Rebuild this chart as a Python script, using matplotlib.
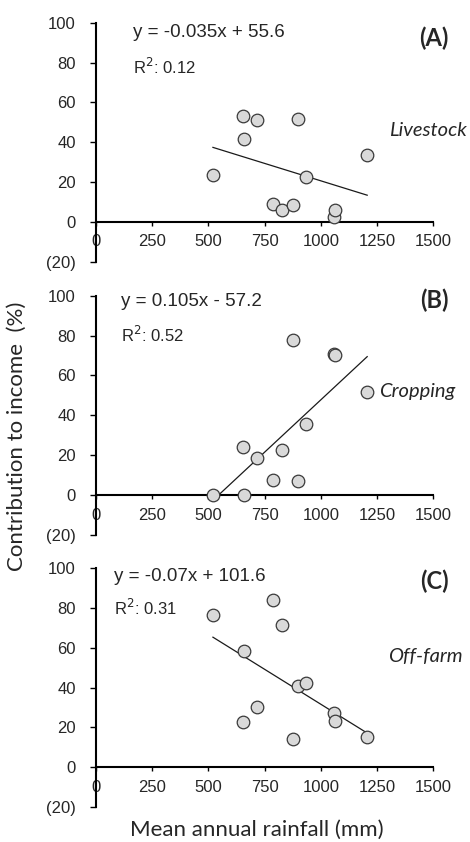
import matplotlib
matplotlib.use("Agg")

import matplotlib.pyplot as plt

# mean annual rainfall at each site (mm)
rainfall = [520, 655, 660, 716, 786, 828, 875, 899, 934, 1058, 1062, 1206]

# contribution to income (%)
livestock = [23.3, 53.0, 41.7, 51.2, 8.8, 5.8, 8.5, 51.7, 22.3, 2.3, 6.2, 33.8]
cropping = [0.0, 24.3, 0.0, 18.5, 7.7, 22.7, 77.7, 7.3, 35.5, 71.0, 70.5, 51.7]
off_farm = [76.5, 22.8, 58.2, 30.2, 83.7, 71.3, 14.0, 41.0, 42.2, 27.0, 23.2, 15.0]

panels = [
    ("(A)", "Livestock", livestock, -0.035, 55.6, "y = -0.035x + 55.6", "0.12"),
    ("(B)", "Cropping", cropping, 0.105, -57.2, "y = 0.105x - 57.2", "0.52"),
    ("(C)", "Off-farm", off_farm, -0.07, 101.6, "y = -0.07x + 101.6", "0.31"),
]

x_ticks = [0, 250, 500, 750, 1000, 1250, 1500]
y_ticks = [-20, 0, 20, 40, 60, 80, 100]
y_tick_labels = ["(20)", "0", "20", "40", "60", "80", "100"]

W, H = 470, 842
fig = plt.figure(figsize=(W / 100, H / 100), dpi=100)

arial = "Liberation Sans"
calibri = "Lato"
ink = "#262626"

# (top px of 100, bottom px of -20) for each panel
boxes = [(22.7, 261.7), (295.7, 535.0), (567.7, 807.3)]
# y centres (px) of equation, R2, panel tag, category name
label_y = [(32.3, 66.7, 38, 130), (301.7, 335, 300, 392), (576.7, 608, 581.7, 656.7)]
eq_x = [132.7, 121, 114.3]
name_right = [467, 455, 463]

for i, (tag, name, vals, slope, icpt, eq, r2) in enumerate(panels):
    top, bot = boxes[i]
    ax = fig.add_axes([96 / W, 1 - bot / H, 337.3 / W, (bot - top) / H])
    ax.set_facecolor("none")

    # x axis drawn through y = 0
    ax.spines["top"].set_visible(False)
    ax.spines["right"].set_visible(False)
    ax.spines["bottom"].set_position(("data", 0))
    ax.spines["left"].set_linewidth(1.5)
    ax.spines["bottom"].set_linewidth(1.5)

    ax.scatter(rainfall, vals, s=82, facecolor="#d9d9d9", edgecolor="#3a3a3a",
               linewidth=0.9, zorder=3, clip_on=False)
    xs = [min(rainfall), max(rainfall)]
    ax.plot(xs, [slope * x + icpt for x in xs], color="#1a1a1a", linewidth=0.9, zorder=2)

    ax.set_xlim(0, 1500)
    ax.set_ylim(-20, 100)
    ax.set_xticks(x_ticks, [str(t) for t in x_ticks])
    ax.set_yticks(y_ticks, y_tick_labels)
    ax.tick_params(labelsize=12, labelfontfamily=arial, labelcolor=ink, width=1)
    ax.tick_params(axis="x", direction="out", length=3, pad=6)
    ax.tick_params(axis="y", direction="out", length=4.5, pad=10)

    ey, ry, ty, ny = label_y[i]
    fig.text(eq_x[i] / W, 1 - ey / H, eq, fontfamily=arial, fontsize=13.5,
             va="center", ha="left", color=ink)
    fig.text(eq_x[i] / W, 1 - ry / H, "R$^2$: " + r2, fontfamily=arial, fontsize=12,
             va="center", ha="left", color=ink)
    fig.text(449 / W, 1 - ty / H, tag, fontfamily=calibri, fontsize=17, fontweight="bold",
             va="center", ha="right", color=ink)
    fig.text(name_right[i] / W, 1 - ny / H, name, fontfamily=calibri, fontsize=14.5,
             style="italic", va="center", ha="right", color=ink)

fig.text(17 / W, 1 - 436 / H, "Contribution to income  (%)", fontfamily=calibri,
         fontsize=16, rotation=90, va="center", ha="center", color=ink)
fig.text(257 / W, 1 - 830 / H, "Mean annual rainfall (mm)", fontfamily=calibri,
         fontsize=16, va="center", ha="center", color=ink)

fig.savefig("out.png", dpi=100)
